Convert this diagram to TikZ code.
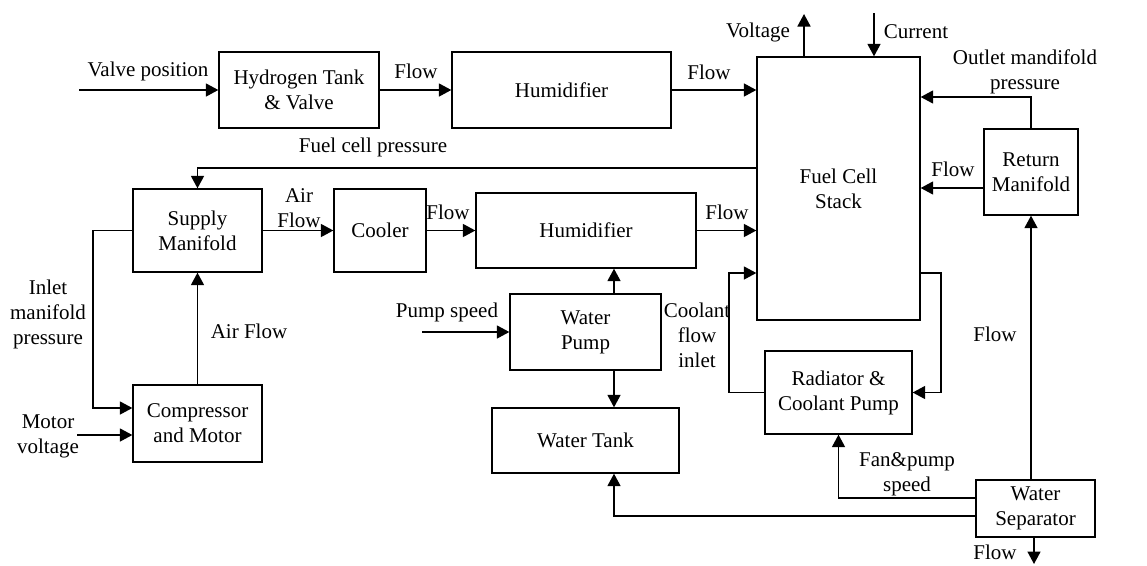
\documentclass[tikz,border=0pt]{standalone}
\usepackage{fontspec}
\setmainfont{Liberation Serif}
\usetikzlibrary{arrows.meta}
\begin{document}
\begin{tikzpicture}[x=1pt,y=-1pt,
  box/.style={draw,line width=1.3pt,align=center,inner sep=0pt,font=\fontsize{21}{25}\selectfont},
  lbl/.style={align=center,inner sep=0pt,font=\fontsize{21}{25}\selectfont},
  conn/.style={line width=1.6pt},
  arr/.style={conn,-{Triangle[length=12.5pt,width=13pt]}}]
\useasboundingbox (0,0) rectangle (1147,565);
% blocks
\node[box,minimum width=160pt,minimum height=76pt] (h2) at (299,90) {Hydrogen Tank\\\& Valve};
\node[box,minimum width=219pt,minimum height=76pt] (hum1) at (561.5,90) {Humidifier};
\node[box,minimum width=163pt,minimum height=263pt] (stack) at (838.5,188.5) {Fuel Cell\\Stack};
\node[box,minimum width=94pt,minimum height=86pt] (ret) at (1031,172) {Return\\Manifold};
\node[box,minimum width=129pt,minimum height=83pt] (sup) at (197.5,230.5) {Supply\\Manifold};
\node[box,minimum width=92pt,minimum height=83pt] (cool) at (380,230.5) {Cooler};
\node[box,minimum width=220pt,minimum height=75pt] (hum2) at (586,230.5) {Humidifier};
\node[box,minimum width=151pt,minimum height=76pt] (wp) at (585.5,332) {Water\\Pump};
\node[box,minimum width=187pt,minimum height=65pt] (wt) at (585.5,440.5) {Water Tank};
\node[box,minimum width=147pt,minimum height=83pt] (rad) at (838.5,392.5) {Radiator \&\\Coolant Pump};
\node[box,minimum width=129pt,minimum height=77pt] (comp) at (197.5,423.5) {Compressor\\and Motor};
\node[box,minimum width=119pt,minimum height=57pt] (sep) at (1035.5,508.5) {Water\\Separator};
% free-end coordinates
\coordinate (vp) at (79,90);
\coordinate (vt) at (804,14);
\coordinate (ci) at (874,13);
\coordinate (ps) at (422,332);
\coordinate (mv) at (77,435);
\coordinate (fo) at (1034,564);
\coordinate (wx) at (614,0);
% connectors
\draw[arr] (vp) -- (h2.west);
\draw[arr] (h2.east) -- (hum1.west);
\draw[arr] (hum1.east) -- (hum1.east -| stack.west);
\draw[arr] (vt |- stack.north) -- (vt);
\draw[arr] (ci) -- (ci |- stack.north);
\draw[arr] (ret.north) -- (ret.north |- 0,97) -- (stack.east |- 0,97);
\draw[arr] (ret.west |- 0,188) -- (stack.east |- 0,188);
\draw[arr] (stack.west |- 0,168) -- (sup.north |- 0,168) -- (sup.north);
\draw[arr] (sup.east) -- (cool.west);
\draw[arr] (cool.east) -- (hum2.west);
\draw[arr] (hum2.east) -- (hum2.east -| stack.west);
\draw[arr] (rad.west) -- (729,392.5) -- (729,273) -- (stack.west |- 0,273);
\draw[arr] (stack.east |- 0,273) -- (941,273) -- (941,392.5) -- (rad.east);
\draw[arr] (wx |- wp.north) -- (wx |- hum2.south);
\draw[arr] (wx |- wp.south) -- (wx |- wt.north);
\draw[arr] (ps) -- (wp.west);
\draw[arr] (sep.west |- 0,498) -- (rad.south |- 0,498) -- (rad.south);
\draw[arr] (sep.west |- 0,516) -- (wx |- 0,516) -- (wx |- wt.south);
\draw[arr] (1031,480) -- (ret.south);
\draw[arr] (fo |- sep.south) -- (fo);
\draw[arr] (comp.north) -- (sup.south);
\draw[arr] (sup.west) -- (93,230.5) -- (93,408) -- (comp.west |- 0,408);
\draw[arr] (mv) -- (comp.west |- mv);
% labels
\node[lbl] (l1) at (148,71) {Valve position};
\node[lbl] (l2) at (416,71) {Flow};
\node[lbl] (l3) at (709,72) {Flow};
\node[lbl] (l4) at (758,32) {Voltage};
\node[lbl] (l5) at (916,32) {Current};
\node[lbl] (l6) at (1025,72) {Outlet mandifold\\pressure};
\node[lbl] (l7) at (953,169) {Flow};
\node[lbl] (l8) at (373,147) {Fuel cell pressure};
\node[lbl] (l9) at (299,208) {Air\\Flow};
\node[lbl] (l10) at (448,212) {Flow};
\node[lbl] (l11) at (727,212) {Flow};
\node[lbl] (l12) at (48,314) {Inlet\\manifold\\pressure};
\node[lbl] (l13) at (249,331) {Air Flow};
\node[lbl] (l14) at (48,436) {Motor\\voltage};
\node[lbl] (l15) at (447,312) {Pump speed};
\node[lbl] (l16) at (697,335) {Coolant\\flow\\inlet};
\node[lbl] (l17) at (995,334) {Flow};
\node[lbl] (l18) at (907,474) {Fan\&pump\\speed};
\node[lbl] (l19) at (995,552) {Flow};
\end{tikzpicture}
\end{document}
